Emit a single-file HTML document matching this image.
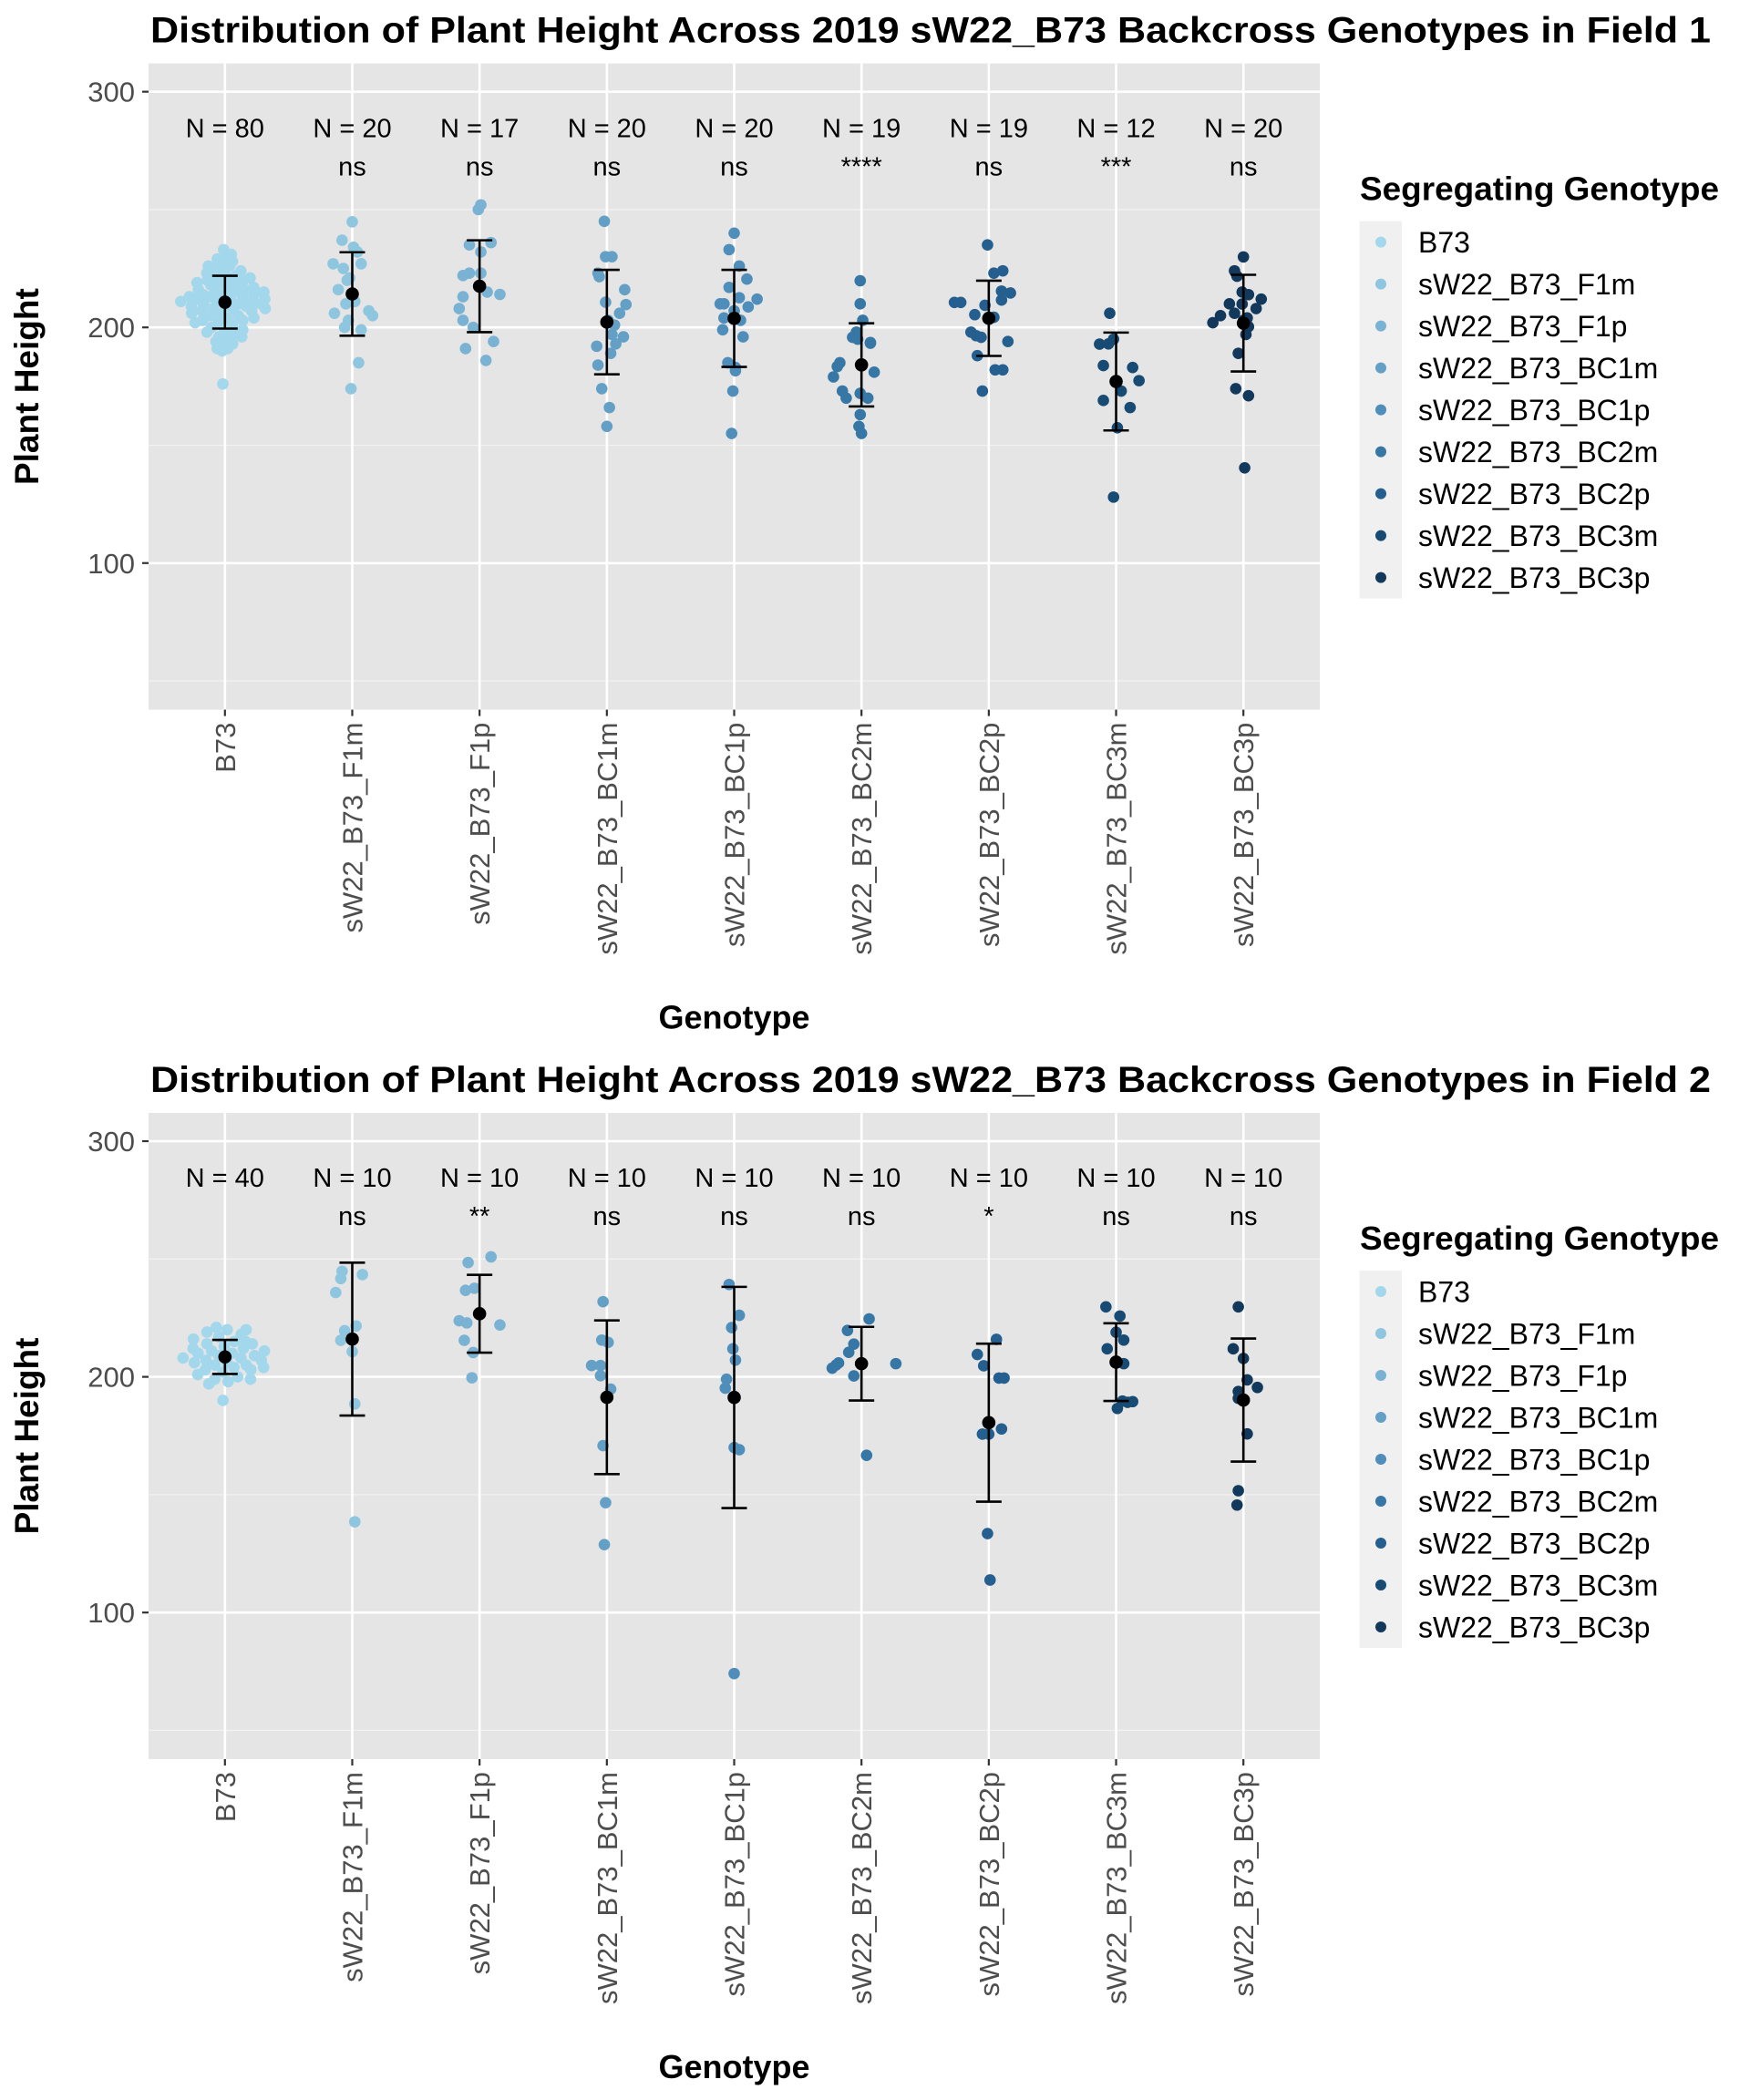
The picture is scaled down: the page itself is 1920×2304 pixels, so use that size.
<!DOCTYPE html>
<html><head><meta charset="utf-8"><style>
html,body{margin:0;padding:0;background:#fff;}
svg{display:block;font-family:"Liberation Sans",Arial,sans-serif;}
</style></head><body>
<svg id="chart" width="1920" height="2304" viewBox="0 0 1920 2304" xmlns="http://www.w3.org/2000/svg"></svg>
<script>
// ---------- DATA ----------
const categories = ["B73","sW22_B73_F1m","sW22_B73_F1p","sW22_B73_BC1m","sW22_B73_BC1p","sW22_B73_BC2m","sW22_B73_BC2p","sW22_B73_BC3m","sW22_B73_BC3p"];
const colors = ["#a3d7ec","#8ec5df","#79b2d3","#64a0c6","#4f8dba","#3677a6","#245f8f","#184b73","#12395c"];
const yTicks = [100,200,300];
const titles = ["Distribution of Plant Height Across 2019 sW22_B73 Backcross Genotypes in Field 1","Distribution of Plant Height Across 2019 sW22_B73 Backcross Genotypes in Field 2"];

const f1B73 = [233,231,230,229,228,227,226,226,225,224,224,223,222,222,221,221,220,220,219,219,218,218,217,217,216,216,215,215,215,214,214,214,213,213,213,212,212,212,211,211,211,210,210,210,209,209,209,208,208,208,207,207,206,206,205,205,204,204,203,203,202,202,201,200,199,198,198,197,196,196,195,194,193,192,191,191,190,215,212,176];
const f1F1m = [244.8,237,234,227,227,221,220,216,210,206,207,205,200,199,185,174,232,225,203,211];
const f1F1p = [252,250,235,232,236,222,223,223,215,214,213,208,203,200,194,191,186];
const f1BC1m = [245,230,230,223,221.5,216,210.7,209.7,206,201,197,196,193,192,189,184,174,166,158,203];
const f1BC1p = [240,233,226,220.5,217,212.6,212,210,210,204,208.7,199,196,183,181.6,173,155,207,203,185];
const f1BC2m = [219.8,210,203,198,195.8,195,193.3,185,183.4,181,179,173,172,170,170,163,158,155,193.6];
const f1BC2p = [235,223,224,215.4,214.6,211.6,210.6,210.6,205.4,204.3,198,196.5,195.8,194,188,182,182,173,209.4];
const f1BC3m = [206,195,192.9,183.8,183,177.4,173,169,166,157.4,128,193];
const f1BC3p = [229.9,224,221.7,215,213.9,212,210,209.9,208,206,205,204,202,200.3,197,189,174,171,140.4,203];

const f2B73 = [221,220,220,219,218,217,216,215,214,214,213,212,212,211,211,210,210,209,209,208,208,207,207,206,206,205,205,204,204,203,203,202,201,200,199,199,198,197,215,190];
const f2F1m = [244.8,243.4,241.7,235.8,221.6,219.6,215.5,210.7,188.5,138.5];
const f2F1p = [250.9,248.5,237.6,236.7,223.8,222.9,222,215.5,210.3,199.6];
const f2BC1m = [231.9,215.6,214.6,204.8,204.8,200.5,194.8,170.8,146.6,128.8];
const f2BC1p = [239.2,226.1,220.9,211.9,207.1,199,195.2,170,169.1,74.1];
const f2BC2m = [224.6,219.7,213.9,210.4,205.9,203.7,200.4,205.6,166.7,205];
const f2BC2p = [215.9,209.5,204.7,199.5,199.5,177.9,175.7,175.7,133.5,113.8];
const f2BC3m = [229.7,225.8,218.9,215.6,211.9,205.6,189.7,189.2,189.5,186.6];
const f2BC3p = [229.7,211.9,207.8,198.7,195.5,193.8,190.9,175.8,151.7,145.6];

const f1Counts = [80,20,17,20,20,19,19,12,20];
const f2Counts = [40,10,10,10,10,10,10,10,10];
const f1Signif = ["","ns","ns","ns","ns","****","ns","***","ns"];
const f2Signif = ["","ns","**","ns","ns","ns","*","ns","ns"];

// horizontal jitter offsets (category units) for each point
const f1Jit = [null,
 [0,-.08,.01,-.15,.07,-.02,-.04,-.11,-.05,-.14,.13,.16,-.06,.07,.05,-.01,.04,-.07,-.03,.02],
 [.01,-.01,-.08,.01,.09,-.13,-.08,.01,.06,.16,-.13,-.16,-.13,-.05,.11,-.11,.05],
 [-.02,-.01,.04,-.07,-.06,.14,-.01,.15,.1,.06,.04,.13,.07,-.08,.03,-.07,-.04,.02,0,.01],
 [0,-.04,.04,.1,-.04,.04,.18,-.11,-.08,-.08,.11,-.09,.07,.01,.01,-.01,-.02,0,.05,-.05],
 [-.01,-.01,.01,-.04,-.07,-.03,.07,-.17,-.19,.1,-.22,-.15,-.01,-.12,.05,-.01,-.02,0,.07],
 [-.01,.04,.11,.1,.17,.1,-.27,-.22,-.11,.04,-.14,-.1,-.06,.15,-.09,.05,.11,-.05,-.03],
 [-.05,-.02,-.13,-.1,.13,.18,.04,-.1,.11,.01,-.02,-.06],
 [0,-.07,-.05,-.01,.04,.14,-.11,-.01,.1,-.07,-.18,.03,-.24,.04,.02,-.04,-.06,.04,.01,0]];
const f2Jit = [null,
 [-.08,.08,-.09,-.13,.03,-.06,-.09,0,.02,.02],
 [.09,-.09,-.04,-.11,-.16,-.1,.16,-.12,-.05,-.06],
 [-.03,-.04,.01,-.12,-.05,-.05,.03,-.03,-.01,-.02],
 [-.04,.04,-.02,-.01,.01,-.06,-.07,0,.04,0],
 [.06,-.11,-.06,-.1,-.18,-.23,-.06,.27,.04,-.2],
 [.06,-.09,-.04,.08,.12,.1,-.05,0,-.01,.01],
 [-.08,.03,0,.06,-.07,.06,.05,.09,.13,.01],
 [-.04,-.08,0,.03,.11,-.04,-.04,.03,-.04,-.05]];

const field1 = [f1B73,f1F1m,f1F1p,f1BC1m,f1BC1p,f1BC2m,f1BC2p,f1BC3m,f1BC3p];
const field2 = [f2B73,f2F1m,f2F1p,f2BC1m,f2BC1p,f2BC2m,f2BC2p,f2BC3m,f2BC3p];

// ---------- RENDER ----------
const NS = "http://www.w3.org/2000/svg";
const svg = document.getElementById("chart");
function mk(tag, attrs, parent, text){
  const e = document.createElementNS(NS, tag);
  for (const k in attrs) e.setAttribute(k, attrs[k]);
  if (text !== undefined) e.textContent = text;
  (parent||svg).appendChild(e);
  return e;
}
const X0 = 163, X1 = 1448, YMIN = 37.8, YMAX = 312;
const step = (X1 - X0) / (categories.length - 1 + 1.2);
function xPos(i){ return X0 + step * (0.6 + i); }

function drawPanel(pi, top, data, jit, counts, signif){
  const bottom = top + 709;
  const yPos = v => top + (YMAX - v) / (YMAX - YMIN) * 709;
  const g = mk("g", {}, svg);
  
  

  const t = mk("text", {x:165, y:top-23, "font-size":40, "font-weight":"bold", fill:"#000", textLength:1712, lengthAdjust:"spacingAndGlyphs"}, g, titles[pi]);
  
  

  const bg = mk("rect", {x:X0, y:top, width:X1-X0, height:bottom-top, fill:"#e5e5e5"}, g);
  
  

  [50,150,250].forEach(v => {
    const l = mk("line", {x1:X0, x2:X1, y1:yPos(v), y2:yPos(v), stroke:"#f2f2f2", "stroke-width":1.3}, g);
    
    
  });
  yTicks.forEach(v => {
    const y = yPos(v);
    const l = mk("line", {x1:X0, x2:X1, y1:y, y2:y, stroke:"#fff", "stroke-width":2.6}, g);
    
    
    mk("line", {x1:X0-7, x2:X0, y1:y, y2:y, stroke:"#333", "stroke-width":2.2}, g);
    const tl = mk("text", {x:X0-15, y:y+11, "font-size":31, fill:"#4d4d4d", "text-anchor":"end"}, g, String(v));
    
    
  });
  categories.forEach((c, i) => {
    const x = xPos(i);
    const l = mk("line", {x1:x, x2:x, y1:top, y2:bottom, stroke:"#fff", "stroke-width":2.6}, g);
    
    
    mk("line", {x1:x, x2:x, y1:bottom, y2:bottom+7, stroke:"#333", "stroke-width":2.2}, g);
    const tl = mk("text", {x:0, y:0, "font-size":31, fill:"#4d4d4d", "text-anchor":"end", transform:`translate(${x+11},${bottom+14}) rotate(-90)`}, g, c);
    
    
  });

  // points
  data.forEach((vals, i) => {
    const cx = xPos(i);
    const n = vals.length;
    const m = vals.reduce((a,b)=>a+b,0)/n;
    const gg = mk("g", {fill:colors[i]}, g);
    
    
    vals.forEach((v, k) => {
      let dx;
      if (jit[i] && jit[i][k] !== undefined) dx = jit[i][k];
      else {
        const w = Math.max(0.06, 1 - Math.abs(v - m) / 24);
        dx = (((k * 0.618034 + 0.31) % 1) - 0.5) * 0.75 * w;
      }
      const p = mk("circle", {cx:cx + dx*step, cy:yPos(v), r:6.3}, gg);
      
      
    });
  });

  // mean ± sd
  data.forEach((vals, i) => {
    const cx = xPos(i);
    const n = vals.length;
    const m = vals.reduce((a,b)=>a+b,0)/n;
    const sd = Math.sqrt(vals.reduce((a,b)=>a+(b-m)*(b-m),0)/(n-1));
    const eg = mk("g", {stroke:"#000", "stroke-width":2.6, fill:"none"}, g);
    
    
    mk("line", {x1:cx, x2:cx, y1:yPos(m+sd), y2:yPos(m-sd)}, eg);
    mk("line", {x1:cx-14, x2:cx+14, y1:yPos(m+sd), y2:yPos(m+sd)}, eg);
    mk("line", {x1:cx-14, x2:cx+14, y1:yPos(m-sd), y2:yPos(m-sd)}, eg);
    const md = mk("circle", {cx:cx, cy:yPos(m), r:7.3, fill:"#000", stroke:"none"}, g);
    
    
  });

  // annotations
  categories.forEach((c, i) => {
    const x = xPos(i);
    const nt = mk("text", {x:x, y:top+81, "font-size":29, fill:"#000", "text-anchor":"middle"}, g, "N = " + counts[i]);
    
    
    if (signif[i]) {
      const st = mk("text", {x:x, y:top+123, "font-size":29, fill:"#000", "text-anchor":"middle"}, g, signif[i]);
      
      
    }
  });

  const xt = mk("text", {x:(X0+X1)/2, y:top+1059, "font-size":36, "font-weight":"bold", fill:"#000", "text-anchor":"middle"}, g, "Genotype");
  
  
  const yt = mk("text", {x:0, y:0, "font-size":37, "font-weight":"bold", fill:"#000", "text-anchor":"middle", transform:`translate(42,${(top+bottom)/2}) rotate(-90)`}, g, "Plant Height");
  
  

  // legend
  const lg = mk("g", {}, g);
  
  
  const ltop = top + 173;
  const lt = mk("text", {x:1492, y:ltop-23, "font-size":36, "font-weight":"bold", fill:"#000", textLength:394, lengthAdjust:"spacingAndGlyphs"}, lg, "Segregating Genotype");
  
  
  mk("rect", {x:1491.5, y:ltop, width:46.5, height:46*categories.length, fill:"#f0f0f0"}, lg);
  categories.forEach((c, i) => {
    const cy = ltop + 23 + 46*i;
    const e = mk("g", {}, lg);
    
    
    mk("circle", {cx:1515, cy:cy, r:6, fill:colors[i]}, e);
    mk("text", {x:1556, y:cy+11.5, "font-size":32, fill:"#000"}, e, c);
  });
}

drawPanel(0, 69.6, field1, f1Jit, f1Counts, f1Signif);
drawPanel(1, 1221, field2, f2Jit, f2Counts, f2Signif);
</script>
</body></html>
